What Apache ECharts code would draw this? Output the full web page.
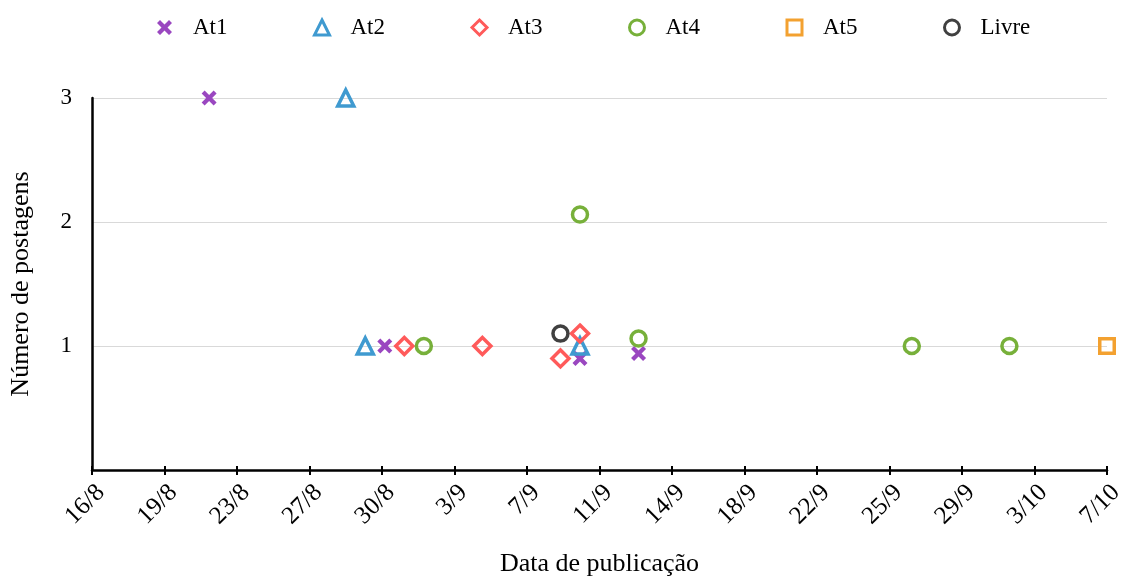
<!DOCTYPE html>
<html>
<head>
<meta charset="utf-8">
<script src="https://cdn.jsdelivr.net/npm/echarts@6/dist/echarts.min.js"></script>
<style>html,body{margin:0;padding:0;background:#fff}#c{width:1128px;height:578px}</style>
</head>
<body>
<div id="c"></div>
<script>
// ---- data (dates as D/M, values = number of posts) ----
const seriesNames = ['At1', 'At2', 'At3', 'At4', 'At5', 'Livre'];
const at1 = [['22/8', 3], ['31/8', 1], ['10/9', 0.9], ['13/9', 0.94]];
const at2 = [['29/8', 3], ['30/8', 1], ['10/9', 1]];
const at3 = [['1/9', 1], ['5/9', 1], ['9/9', 0.9], ['10/9', 1.1]];
const at4 = [['2/9', 1], ['10/9', 2.06], ['13/9', 1.06], ['27/9', 1], ['2/10', 1]];
const at5 = [['7/10', 1]];
const livre = [['9/9', 1.1]];
const xTickLabels = ['16/8', '19/8', '23/8', '27/8', '30/8', '3/9', '7/9', '11/9', '14/9', '18/9', '22/9', '25/9', '29/9', '3/10', '7/10'];
const startDate = '16/8';
const endDate = '7/10';
const yTicks = [0, 1, 2, 3];

// ---- helpers ----
const YEAR = 2023;
function dayNum(s) { const [d, m] = s.split('/').map(Number); return Date.UTC(YEAR, m - 1, d) / 86400000; }
const d0 = dayNum(startDate), d1 = dayNum(endDate);
const nInt = xTickLabels.length - 1;
const toX = s => (dayNum(s) - d0) * nInt / (d1 - d0); // position in tick-step units
const conv = arr => arr.map(([d, v]) => [toX(d), v]);

const font = '"Liberation Serif","Times New Roman",serif';
const colors = ['#9a47c0', '#3f9ad0', '#ff5a5a', '#77b03a', '#f3a130', '#404040'];
const xPath = 'path://M0,2 L2,0 L5,3 L8,0 L10,2 L7,5 L10,8 L8,10 L5,7 L2,10 L0,8 L3,5 Z';
const symbols = [xPath, 'triangle', 'diamond', 'circle', 'rect', 'circle'];
const sizes = [15, 16, 17, 15, 14.5, 15];
const datas = [at1, at2, at3, at4, at5, livre];
const BW = 3.5;

const styleFor = i => i === 0
  ? { color: colors[i], borderWidth: 0, opacity: 1 }
  : { color: 'rgba(255,255,255,0)', borderColor: colors[i], borderWidth: BW, opacity: 1 };

const series = seriesNames.map((n, i) => ({
  name: n, type: 'scatter', data: conv(datas[i]),
  symbol: symbols[i], symbolSize: sizes[i],
  itemStyle: styleFor(i),
  z: 5
}));

const chart = echarts.init(document.getElementById('c'), null, { renderer: 'canvas' });
chart.setOption({
  animation: false,
  textStyle: { fontFamily: font },
  color: colors,
  legend: {
    top: 11, left: 152, itemGap: 85.5, itemWidth: 15, itemHeight: 15,
    textStyle: { fontFamily: font, fontSize: 23, color: '#000', padding: [0, 0, 0, 16] },
    data: seriesNames.map((n, i) => ({
      name: n, icon: symbols[i],
      itemStyle: i === 0 ? { color: colors[i], borderWidth: 0 }
        : { color: 'rgba(255,255,255,0)', borderColor: colors[i], borderWidth: 3 }
    }))
  },
  grid: { left: 92, right: 21, top: 98, bottom: 108, containLabel: false, outerBoundsMode: 'none' },
  xAxis: [{
    type: 'value', min: 0, max: nInt, interval: 1,
    name: 'Data de publicação', nameLocation: 'middle', nameGap: 81,
    nameTextStyle: { fontFamily: font, fontSize: 26, color: '#000' },
    axisLine: { show: true, onZero: false, lineStyle: { color: '#000', width: 2.5 } },
    axisTick: { show: true, length: 5, lineStyle: { color: '#000', width: 2 } },
    axisLabel: { rotate: 45, margin: 10, verticalAlign: 'top', fontFamily: font, fontSize: 25, color: '#000',
      formatter: v => xTickLabels[Math.round(v)] },
    splitLine: { show: false }
  }, {
    type: 'value', min: 0, max: nInt, interval: 1, position: 'bottom',
    axisLine: { show: false },
    axisTick: { show: true, inside: true, length: 4, lineStyle: { color: '#000', width: 2 } },
    axisLabel: { show: false }, splitLine: { show: false }
  }],
  yAxis: {
    type: 'value', min: yTicks[0], max: yTicks[yTicks.length - 1], interval: 1,
    name: 'Número de postagens', nameLocation: 'middle', nameGap: 58,
    nameTextStyle: { fontFamily: font, fontSize: 26, color: '#000' },
    axisLine: { show: true, lineStyle: { color: '#000', width: 2.5 } },
    axisTick: { show: false },
    axisLabel: { margin: 20, fontFamily: font, fontSize: 23, color: '#000',
      formatter: v => (v === 0 ? '' : String(v)) },
    splitLine: { show: true, lineStyle: { color: '#d9d9d9', width: 1.2 } }
  },
  series: series
});
</script>
</body>
</html>
